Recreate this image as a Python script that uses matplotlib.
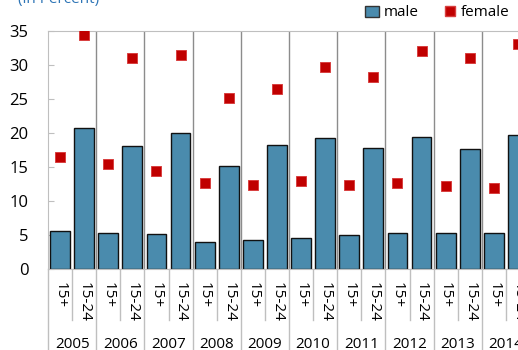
import numpy as np
import matplotlib.pyplot as plt
from matplotlib.patches import Patch
from matplotlib.lines import Line2D

plt.rcParams['font.family'] = ['Open Sans', 'DejaVu Sans']

years = ['2005', '2006', '2007', '2008', '2009', '2010', '2011', '2012', '2013', '2014']
age_groups = ['15+', '15-24']

# unemployment rates (percent), one pair (15+, 15-24) per year
male = [5.6, 20.7, 5.3, 18.1, 5.2, 20.0, 4.0, 15.1, 4.3, 18.2,
        4.5, 19.2, 5.0, 17.8, 5.3, 19.4, 5.3, 17.6, 5.3, 19.7]
female = [16.4, 34.4, 15.5, 31.0, 14.4, 31.4, 12.6, 25.2, 12.3, 26.4,
          13.0, 29.7, 12.4, 28.2, 12.7, 32.0, 12.2, 31.1, 11.9, 33.1]

bar_color = '#4A8BAD'
dot_color = '#C00000'

W, H = 518, 350
fig = plt.figure(figsize=(W / 100, H / 100), dpi=100)
# plot area runs a little past the right edge of the figure
left, right, top, bottom = 48, 530, 31, 269
ax = fig.add_axes([left / W, 1 - bottom / H, (right - left) / W, (bottom - top) / H])

x = np.arange(len(male))
ax.bar(x, male, width=0.82, color=bar_color, edgecolor='#111111', linewidth=1, zorder=2)
ax.plot(x, female, linestyle='none', marker='s', markersize=6.8,
        color=dot_color, markeredgecolor='#D84040', markeredgewidth=0.7, zorder=3)

ax.set_xlim(-0.5, len(male) - 0.5)
ax.set_ylim(0, 35)
ax.set_yticks(range(0, 36, 5))
ax.tick_params(axis='y', direction='in', length=4, color='#BFBFBF', labelsize=12, pad=14)
ax.set_xticks([])
for side in ['left', 'top', 'bottom']:
    ax.spines[side].set_color('#BFBFBF')
ax.spines['right'].set_visible(False)

# separators between the years, running from the top of the plot down through the labels
ph = bottom - top
trans = ax.get_xaxis_transform()
for g in range(len(years) + 1):
    xs = 2 * g - 0.5
    if 0 < g < len(years):
        ax.plot([xs, xs], [0, 1], transform=trans, color='#8C8C8C', lw=1, zorder=1)
    ax.plot([xs, xs], [0, -(H - bottom) / ph], transform=trans,
            color='#BFBFBF', lw=1, clip_on=False)
    if g < len(years):
        mid = 2 * g + 0.5
        ax.plot([mid, mid], [0, -(320 - bottom) / ph], transform=trans,
                color='#BFBFBF', lw=1, clip_on=False)

for i in x:
    ax.text(i, -(282 - bottom) / ph, age_groups[i % 2], transform=trans, rotation=270,
            ha='center', va='top', fontsize=11)
for g, yr in enumerate(years):
    ax.text(2 * g + 0.5, -(344 - bottom) / ph, yr, transform=trans,
            ha='center', va='center', fontsize=11)

fig.text(18 / W, 1 - 3 / H, '(in Percent)', color='#2E75B6', fontsize=11, va='baseline')

handles = [Patch(facecolor=bar_color, edgecolor='#333333', label='male'),
           Line2D([], [], linestyle='none', marker='s', markersize=6.8, color=dot_color,
                  markeredgecolor='#D84040', label='female')]
fig.legend(handles=handles, loc='center right', bbox_to_anchor=(516 / W, 1 - 13 / H),
           ncol=2, frameon=False, fontsize=11, handlelength=0.9, handletextpad=0.3,
           columnspacing=1.6, borderaxespad=0)

fig.savefig('out.png', dpi=100)
